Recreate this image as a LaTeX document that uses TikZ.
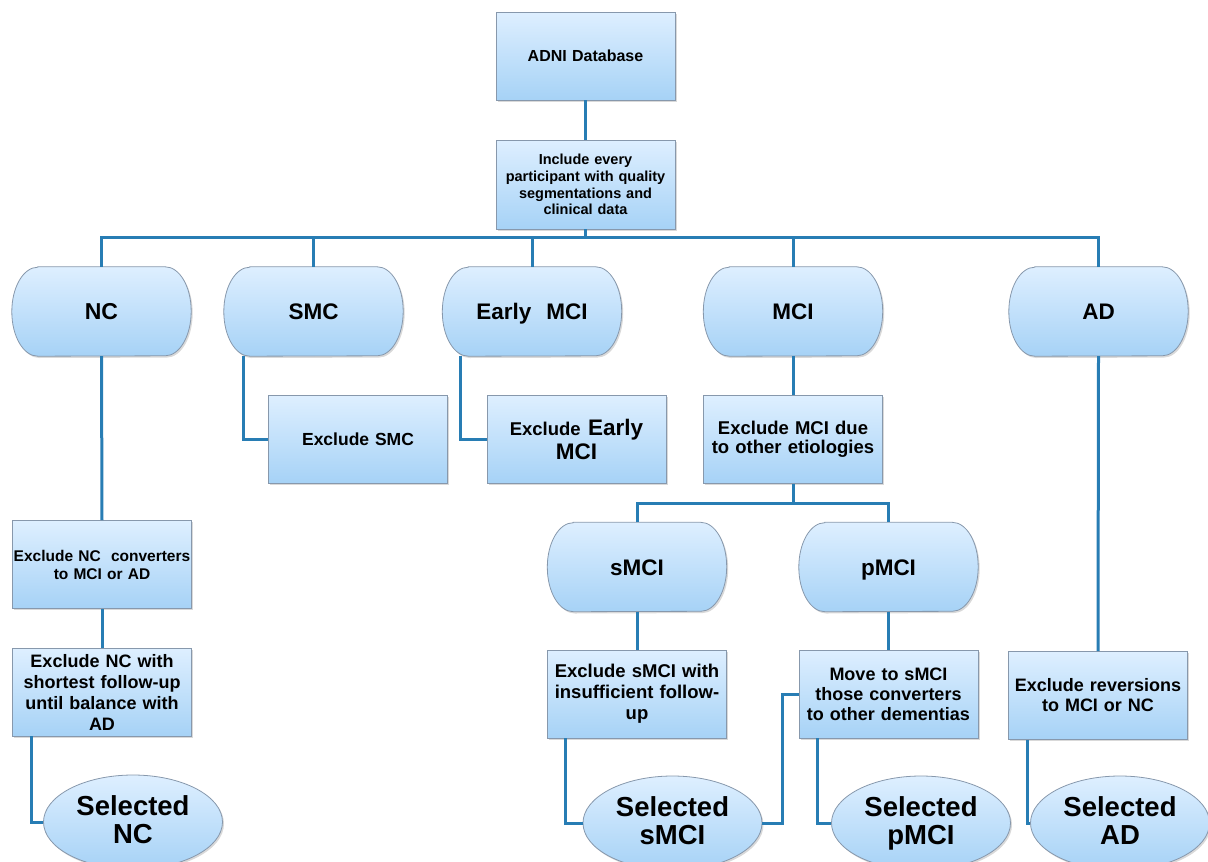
\documentclass[tikz,border=0pt]{standalone}
\usepackage{fontspec}
\setmainfont{Liberation Sans}
\usetikzlibrary{shapes.geometric,shadows}
\pgfdeclarelayer{background}
\pgfsetlayers{background,main}
\definecolor{linkblue}{RGB}{40,125,180}
\definecolor{boxtop}{RGB}{222,239,255}
\definecolor{boxbot}{RGB}{166,210,246}
\definecolor{boxedge}{RGB}{135,152,172}
\newcommand{\fs}[2]{\fontsize{#1}{#2}\selectfont}
\tikzset{
  boxlook/.style={draw=boxedge, line width=0.8pt, top color=boxtop, bottom color=boxbot,
    drop shadow={opacity=0.3, shadow xshift=1.5pt, shadow yshift=-1.8pt}},
  basebox/.style={boxlook, align=center, inner sep=1pt},
  sqbox/.style={basebox, rectangle, minimum width=179pt, minimum height=88pt, text width=177pt},
  pillbox/.style={rectangle, minimum width=179pt, minimum height=89pt, text width=170pt, align=center, inner sep=1pt,
    text height=16pt, text depth=0pt},
  selbox/.style={basebox, ellipse, minimum width=179pt, minimum height=94pt, inner sep=0pt,
    execute at end node={\vphantom{p}}},
  link/.style={draw=linkblue, line width=3pt}
}
\newcommand{\pillshape}[1]{%
  \path[boxlook] ([xshift=26pt]#1.north west) -- ([xshift=-26pt]#1.north east)
    arc[start angle=90, end angle=-90, x radius=26pt, y radius=44.5pt]
    -- ([xshift=26pt]#1.south west)
    arc[start angle=-90, end angle=-270, x radius=26pt, y radius=44.5pt] -- cycle;}
\begin{document}
\begin{tikzpicture}[x=1pt,y=-1pt]
\useasboundingbox (0,0) rectangle (1208,862);
\clip (0,0) rectangle (1208,862);
% top
\node[sqbox, font=\bfseries\fs{16}{19}] (adni) at (585.5,56) {ADNI Database};
\node[sqbox, minimum height=89pt, font=\bfseries\fs{14.5}{16.7}] (incl) at (585.5,184.5) {Include every\\participant with quality\\segmentations and\\clinical data};
% groups
\node[pillbox, font=\bfseries\fs{23}{24}] (nc) at (101.5,311.5) {NC};
\node[pillbox, font=\bfseries\fs{22.5}{24}] (smc) at (313.5,311.5) {SMC};
\node[pillbox, font=\bfseries\fs{22.5}{24}] (emci) at (532,311.5) {Early\ \ MCI};
\node[pillbox, font=\bfseries\fs{22.5}{24}] (mci) at (793,311.5) {MCI};
\node[pillbox, font=\bfseries\fs{22.5}{24}] (ad) at (1098.5,311.5) {AD};
% exclusions level 1
\node[sqbox, font=\bfseries\fs{17.5}{20}] (exsmc) at (358,439) {Exclude SMC};
\node[sqbox, font=\bfseries\fs{22.5}{24}] (exemci) at (576.5,439) {{\fs{18.5}{22}Exclude} Early\\MCI};
\node[sqbox, font=\bfseries\fs{18.5}{19.5}] (exmci) at (793,439.5) {Exclude MCI due\\to other etiologies};
% sMCI / pMCI
\node[pillbox, font=\bfseries\fs{22.5}{24}] (smci) at (637,567) {sMCI};
\node[pillbox, font=\bfseries\fs{22.5}{24}] (pmci) at (888.5,567) {pMCI};
% NC column
\node[sqbox, font=\bfseries\fs{15.5}{18}] (exncconv) at (102,564.5) {Exclude NC\ \ converters\\to MCI or AD};
\node[sqbox, font=\bfseries\fs{18}{21}] (exncshort) at (102,692) {Exclude NC with\\shortest follow-up\\until balance with\\AD};
% lower boxes
\node[sqbox, font=\bfseries\fs{18.5}{21}] (exsmci) at (637,694) {Exclude sMCI with\\insufficient follow-\\up};
\node[sqbox, font=\bfseries\fs{18}{20}] (move) at (888.5,694) {Move to sMCI\\those converters\\to other dementias};
\node[sqbox, font=\bfseries\fs{18}{20}] (exrev) at (1098,695.5) {Exclude reversions\\to MCI or NC};
% selected
\node[selbox, font=\bfseries\fs{27.5}{28}] (selnc) at (133,822) {Selected\\NC};
\node[selbox, font=\bfseries\fs{27.5}{28}] (selsmci) at (672.5,823) {Selected\\sMCI};
\node[selbox, font=\bfseries\fs{27.5}{28}] (selpmci) at (921,823) {Selected\\pMCI};
\node[selbox, font=\bfseries\fs{27.5}{28}] (selad) at (1120,823) {Selected\\AD};
% pill outlines
\begin{pgfonlayer}{background}
\pillshape{nc}\pillshape{smc}\pillshape{emci}\pillshape{mci}\pillshape{ad}
\pillshape{smci}\pillshape{pmci}
\end{pgfonlayer}
% connectors
\coordinate (bus) at (585.5,237);
\coordinate (lowbus) at (793,503);
\path[link] (adni.south) -- (incl.north);
\path[link] (incl.south) -- (incl.south |- bus);
\path[link] (nc.north) -- (nc.north |- bus) -- (ad.north |- bus) -- (ad.north);
\path[link] (smc.north) -- (smc.north |- bus);
\path[link] (emci.north) -- (emci.north |- bus);
\path[link] (mci.north) -- (mci.north |- bus);
\path[link] (nc.south) -- (exncconv.north);
\path[link] (exncconv.south) -- (exncshort.north);
\path[link] ([xshift=-70.5pt]smc.south) |- (exsmc.west);
\path[link] ([xshift=-72pt]emci.south) |- (exemci.west);
\path[link] (mci.south) -- (exmci.north);
\path[link] (exmci.south) -- (exmci.south |- lowbus);
\path[link] (smci.north) -- (smci.north |- lowbus) -- (pmci.north |- lowbus) -- (pmci.north);
\path[link] (smci.south) -- (exsmci.north);
\path[link] (pmci.south) -- (move.north);
\path[link] (ad.south) -- (exrev.north);
\path[link] ([xshift=-71pt]exncshort.south) |- (selnc.west);
\path[link] ([xshift=-72pt]exsmci.south) |- (selsmci.west);
\path[link] (move.west) -- ++(-16,0) |- (selsmci.east);
\path[link] ([xshift=-71.5pt]move.south) |- (selpmci.west);
\path[link] ([xshift=-71pt]exrev.south) |- (selad.west);
\end{tikzpicture}
\end{document}
